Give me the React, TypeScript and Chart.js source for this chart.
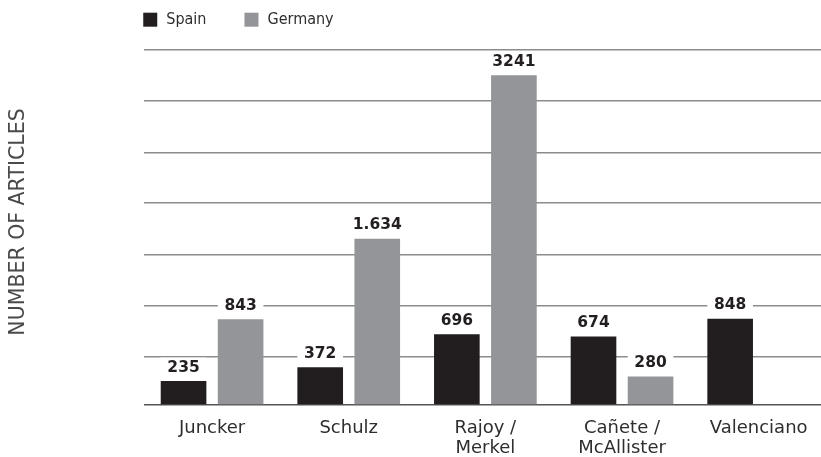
import React, { useEffect, useRef } from "react";
import { Chart, registerables } from "chart.js";

Chart.register(...registerables);

// ---- data ----
const categories: string[][] = [
  ["Juncker"],
  ["Schulz"],
  ["Rajoy /", "Merkel"],
  ["Cañete /", "McAllister"],
  ["Valenciano"],
];
const spainValues: (number | null)[] = [235, 372, 696, 674, 848];
const germanyValues: (number | null)[] = [843, 1634, 3241, 280, null];
const spainLabels = ["235", "372", "696", "674", "848"];
const germanyLabels = ["843", "1.634", "3241", "280", ""];
const seriesNames = ["Spain", "Germany"];
const seriesColors = ["#221e1f", "#939598"];
const gridValues = [0, 470, 975, 1480, 1985, 2480, 2990, 3490];
const yTitle = "NUMBER OF ARTICLES";

const valueLabels = [spainLabels, germanyLabels];

const labelPlugin = {
  id: "valueLabels",
  afterDatasetsDraw(chart: any) {
    const ctx = chart.ctx;
    ctx.save();
    ctx.font = "bold 15.5px 'DejaVu Sans'";
    ctx.textAlign = "center";
    ctx.textBaseline = "alphabetic";
    chart.data.datasets.forEach((ds: any, di: number) => {
      const meta = chart.getDatasetMeta(di);
      meta.data.forEach((el: any, i: number) => {
        const v = ds.data[i];
        const txt = valueLabels[di][i];
        if (v == null || !txt) return;
        const w = el.width;
        const base = el.y - 9.5;
        ctx.fillStyle = "#ffffff";
        ctx.fillRect(el.x - w / 2, base - 14, w, 16);
        ctx.fillStyle = "#231f20";
        ctx.fillText(txt, el.x, base);
      });
    });
    ctx.restore();
  },
};

const decorPlugin = {
  id: "decor",
  afterDraw(chart: any) {
    const ctx = chart.ctx;
    const area = chart.chartArea;
    ctx.save();
    // y axis title
    ctx.translate(18.5, 222);
    ctx.rotate(-Math.PI / 2);
    ctx.textAlign = "center";
    ctx.textBaseline = "middle";
    ctx.font = "20.5px 'DejaVu Sans'";
    ctx.fillStyle = "#4a4a4a";
    ctx.fillText(yTitle, 0, 0);
    ctx.restore();

    // legend
    ctx.save();
    ctx.font = "16px 'DejaVu Sans Condensed', 'Liberation Sans Narrow', 'DejaVu Sans'";
    ctx.textBaseline = "middle";
    ctx.textAlign = "left";
    let x = area.left - 0.5;
    const cy = 19.7;
    seriesNames.forEach((name, i) => {
      ctx.fillStyle = seriesColors[i];
      ctx.fillRect(x, cy - 7, 14, 14);
      ctx.fillStyle = "#2e2e2e";
      ctx.fillText(name, x + 23, cy + 0.5);
      x += 23 + ctx.measureText(name).width + 38;
    });
    ctx.restore();
  },
};

export default function App() {
  const ref = useRef<HTMLCanvasElement | null>(null);

  useEffect(() => {
    if (!ref.current) return;
    const chart = new Chart(ref.current, {
      type: "bar",
      data: {
        labels: categories as any,
        datasets: [
          {
            label: seriesNames[0],
            data: spainValues,
            backgroundColor: seriesColors[0],
            borderWidth: 0,
            categoryPercentage: 0.835,
            barPercentage: 0.8,
          },
          {
            label: seriesNames[1],
            data: germanyValues,
            backgroundColor: seriesColors[1],
            borderWidth: 0,
            categoryPercentage: 0.835,
            barPercentage: 0.8,
          },
        ],
      },
      options: {
        responsive: false,
        animation: false,
        devicePixelRatio: 1,
        layout: { padding: { left: 143.75, top: 50, right: 0, bottom: 0 } },
        plugins: {
          legend: { display: false },
          tooltip: { enabled: false },
          title: { display: false },
        },
        scales: {
          x: {
            grid: { display: false, drawTicks: false },
            border: { display: false },
            ticks: {
              color: "#2e2e2e",
              font: { family: "'DejaVu Sans'", size: 18, lineHeight: 1.11 },
              padding: 13,
              maxRotation: 0,
              autoSkip: false,
            },
            afterFit: (s: any) => {
              s.height = 52;
            },
          },
          y: {
            min: 0,
            max: 3490,
            grid: {
              drawTicks: false,
              color: (c: any) => (c.tick && c.tick.value === 0 ? "#555555" : "#8c8c8c"),
              lineWidth: 1.6,
            },
            border: { display: false },
            ticks: { display: false },
            afterBuildTicks: (s: any) => {
              s.ticks = gridValues.map((v) => ({ value: v }));
            },
            afterFit: (s: any) => {
              s.width = 0;
            },
          },
        },
      },
      plugins: [labelPlugin, decorPlugin],
    });
    return () => chart.destroy();
  }, []);

  return (
    <div
      style={{
        position: "fixed",
        left: 0,
        top: 0,
        width: 821,
        height: 457,
        overflow: "hidden",
        background: "#ffffff",
      }}
    >
      <canvas ref={ref} width={827} height={457} style={{ display: "block" }} />
    </div>
  );
}
